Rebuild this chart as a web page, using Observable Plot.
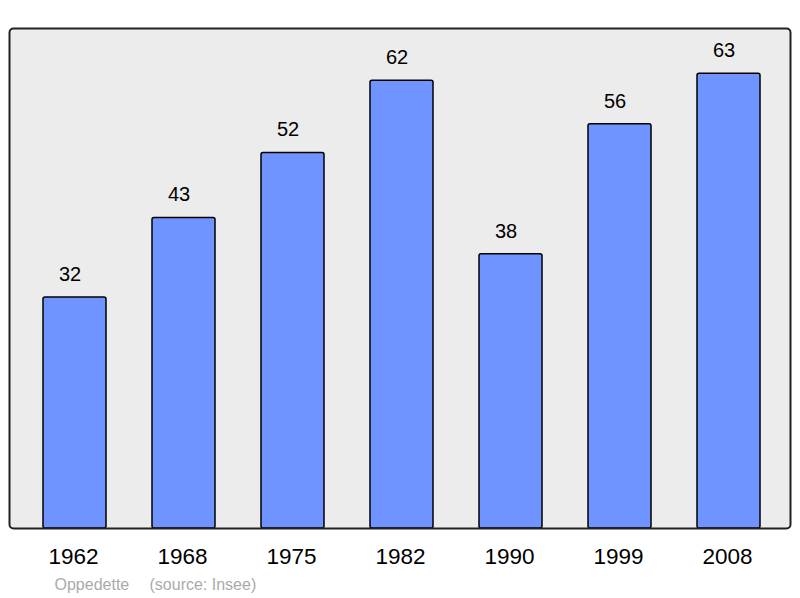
<!DOCTYPE html>
<html>
<head>
<meta charset="utf-8">
<script src="https://cdn.jsdelivr.net/npm/d3@7"></script>
<script src="https://cdn.jsdelivr.net/npm/@observablehq/plot@0.6"></script>
<style>
  html, body { margin: 0; padding: 0; background: #fff; }
  svg { display: block; }
</style>
</head>
<body>
<div id="chart"></div>
<script>
const years = ["1962", "1968", "1975", "1982", "1990", "1999", "2008"];
const population = [32, 43, 52, 62, 38, 56, 63];
const placeName = "Oppedette";
const sourceText = "(source: Insee)";

const data = years.map((year, i) => ({year, value: population[i]}));

const chart = Plot.plot({
  width: 800,
  height: 598,
  marginLeft: 9,
  marginRight: 10,
  marginTop: 28,
  marginBottom: 70,
  style: {fontFamily: "'Liberation Sans', Arial, sans-serif", background: "#fff"},
  x: {domain: years, paddingInner: 0.424, paddingOuter: 0, insetLeft: 33, insetRight: 29, label: null},
  y: {domain: [0, 69.25], axis: null},
  marks: [
    Plot.frame({fill: "#ececec", stroke: "none"}),
    Plot.barY(data, {x: "year", y: "value", fill: "#7094ff", stroke: "#000", strokeWidth: 1.5, rx: 2}),
    Plot.text(data, {x: "year", y: "value", text: d => String(d.value), dx: -5, dy: -23, fontSize: 20, fill: "#000"}),
    Plot.frame({stroke: "#222", strokeWidth: 2, rx: 4, fill: "none"}),
    Plot.axisX({tickSize: 0, tickPadding: 20, fontSize: 22.5, dx: -1.5, label: null, fill: "#000"}),
    Plot.text([placeName], {frameAnchor: "bottom-left", text: d => d, dx: 45, dy: 61, lineAnchor: "bottom", textAnchor: "start", fontSize: 16, fill: "#aaa"}),
    Plot.text([sourceText], {frameAnchor: "bottom-left", text: d => d, dx: 140, dy: 61, lineAnchor: "bottom", textAnchor: "start", fontSize: 16, fill: "#aaa"})
  ]
});
document.getElementById("chart").appendChild(chart);
</script>
</body>
</html>
